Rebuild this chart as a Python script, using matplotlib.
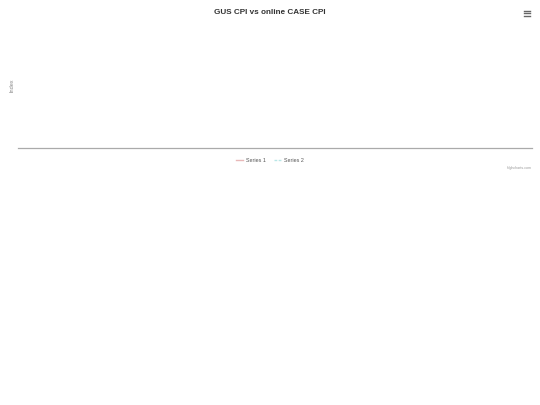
import matplotlib

matplotlib.use("Agg")
import matplotlib.pyplot as plt
from matplotlib.lines import Line2D

plt.rcParams["font.family"] = ["Liberation Sans", "DejaVu Sans"]

# chart has no data points, only the two (empty) series
dates = []
series_1 = []
series_2 = []
series_names = ["Series 1", "Series 2"]

title = "GUS CPI vs online CASE CPI"
y_label = "Index"

fig = plt.figure(figsize=(5.4, 4.05), dpi=100)
ax = fig.add_axes([18 / 540, 1 - 148 / 405, 514 / 540, 126 / 405])

(line_1,) = ax.plot(dates, series_1, color="#e8b8b8", linewidth=1.0, label=series_names[0])
(line_2,) = ax.plot(
    dates, series_2, color="#b8e6e6", linewidth=1.0, linestyle=(0, (2, 1)), label=series_names[1]
)

ax.set_xlim(0, 1)
ax.set_ylim(0, 1)
ax.set_xticks([])
ax.set_yticks([])
for side in ("top", "left", "right"):
    ax.spines[side].set_visible(False)
ax.spines["bottom"].set_color("#aaaaaa")
ax.spines["bottom"].set_linewidth(0.9)

fig.text(12 / 540, 1 - 85 / 405, y_label, rotation=90, ha="center", va="center",
         fontsize=4.0, color="#888888")
fig.text(270 / 540, 1 - 12.5 / 405, title, ha="center", va="center",
         fontsize=5.9, fontweight="bold", color="#333333")

ax.legend(
    handles=[line_1, line_2],
    loc="center",
    bbox_to_anchor=(270 / 540, 1 - 160 / 405),
    bbox_transform=fig.transFigure,
    ncol=2,
    frameon=False,
    fontsize=3.9,
    labelcolor="#555555",
    handlelength=1.4,
    handletextpad=0.5,
    columnspacing=1.5,
)

fig.text(532 / 540, 1 - 168 / 405, "Highcharts.com", ha="right", va="center",
         fontsize=2.6, color="#999999")

# export menu icon
for y in (10.5, 13.0, 15.5):
    fig.add_artist(Line2D([523.5 / 540, 530 / 540], [1 - y / 405] * 2,
                          transform=fig.transFigure, color="#666666", linewidth=1.0))

fig.savefig("out.png", dpi=100)
